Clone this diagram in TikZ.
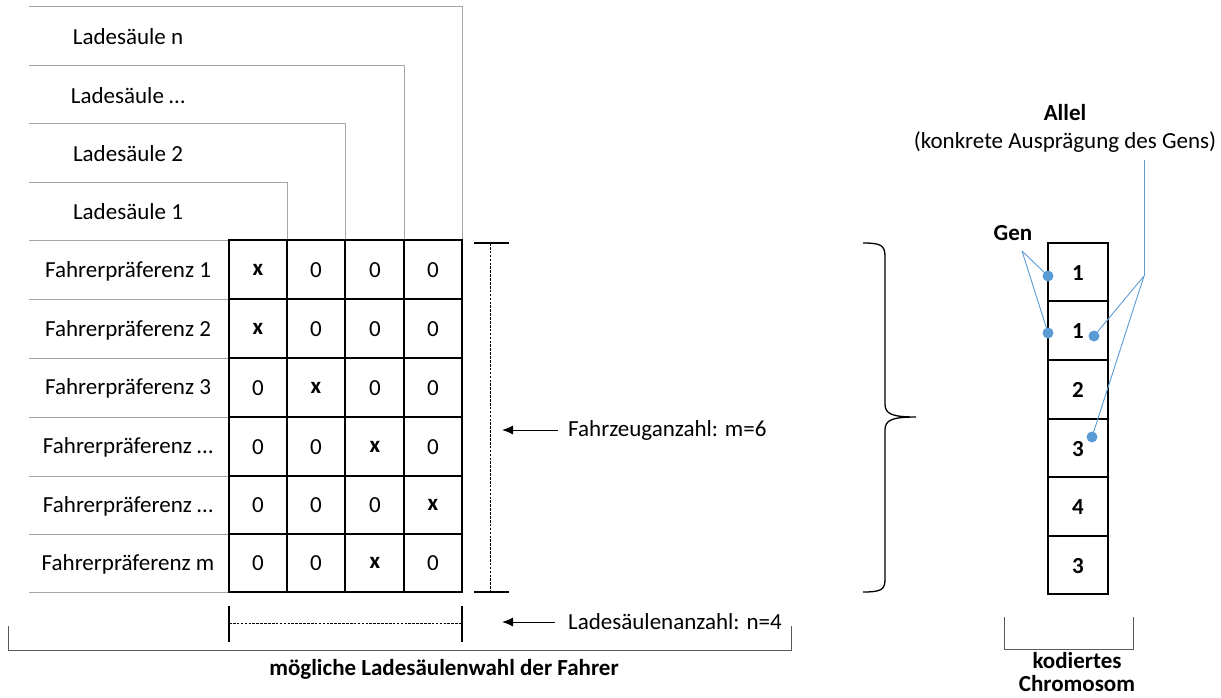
\documentclass[tikz,border=0pt]{standalone}
\usepackage{fontspec}
\setmainfont{Carlito}
\usetikzlibrary{arrows.meta}
\definecolor{lblue}{HTML}{5B9BD5}
\definecolor{lgray}{HTML}{A6A6A6}
\definecolor{dgray}{HTML}{595959}
\begin{document}
\begin{tikzpicture}[x=1pt,y=-1pt,
  txt/.style={font=\fontsize{23}{27}\selectfont, inner sep=0pt},
  btxt/.style={font=\fontsize{23}{27}\selectfont\bfseries, inner sep=0pt},
  grid/.style={line width=1.9pt, black},
  thin gray/.style={line width=0.9pt, lgray},
  dim/.style={line width=1.2pt, black},
  dashline/.style={line width=1pt, dash pattern=on 2.6pt off 1.3pt},
  arr/.style={line width=1pt, -{Latex[length=11pt,width=9pt]}},
  blue line/.style={line width=0.9pt, lblue},
  dot/.style={circle, fill=lblue, inner sep=0pt, minimum size=11pt}]
\useasboundingbox (0,0) rectangle (1221,697);

% Ladesaeule staircase lines
\draw[thin gray] (29,6) -- (462,6) -- (462,240);
\draw[thin gray] (29,65) -- (404,65) -- (404,240);
\draw[thin gray] (29,123) -- (345,123) -- (345,240);
\draw[thin gray] (29,182) -- (287,182) -- (287,240);
\foreach \y in {240,299,358,417,476,534,592}
  \draw[thin gray] (29,\y) -- (229,\y);

\node[txt] (ln) at (128,37) {Ladesäule n};
\node[txt] (ld) at (128,96) {Ladesäule …};
\node[txt] (l2) at (128,154) {Ladesäule 2};
\node[txt] (l1) at (128,212) {Ladesäule 1};

% Fahrerpraeferenz labels
\node[txt] (f1) at (128,271) {Fahrerpräferenz 1};
\node[txt] (f2) at (128,330) {Fahrerpräferenz 2};
\node[txt] (f3) at (128,388) {Fahrerpräferenz 3};
\node[txt] (f4) at (128,447) {Fahrerpräferenz …};
\node[txt] (f5) at (128,506) {Fahrerpräferenz …};
\node[txt] (f6) at (128,564) {Fahrerpräferenz m};

% grid
\draw[grid] (229,240) rectangle (462,592);
\foreach \x in {287,345,404} \draw[grid] (\x,240) -- (\x,592);
\foreach \y in {299,358,417,476,534} \draw[grid] (229,\y) -- (462,\y);

% cell contents
\foreach \r/\y/\c in {1/270/1, 2/329/1, 3/388/2, 4/447/3, 5/505/4, 6/563/3}{
  \foreach \k/\x in {1/258, 2/316, 3/375, 4/433}{
    \ifnum\k=\c
      \node[btxt] (c\r\k) at (\x,\y) {x};
    \else
      \node[txt] (c\r\k) at (\x,\y) {0};
    \fi
  }
}

% vertical dimension m
\draw[dim] (474,243) -- (509,243);
\draw[dim] (474,592) -- (509,592);
\draw[dashline] (490,243) -- (490,592);
\coordinate (am) at (558,430);
\coordinate (amt) at (502,430);
\draw[arr] (am) -- (amt);
\node[txt, anchor=west] (fz) at (568,430) {Fahrzeuganzahl: m=6};

% horizontal dimension n
\draw[dim] (229,606) -- (229,642);
\draw[dim] (462,606) -- (462,642);
\draw[dashline] (229,623) -- (462,623);
\coordinate (an) at (555,622);
\coordinate (ant) at (502,622);
\draw[arr] (an) -- (ant);
\node[txt, anchor=west] (ls) at (568,622) {Ladesäulenanzahl: n=4};

% bottom bracket
\draw[line width=1pt, dgray] (8,626) -- (8,650) -- (791,650) -- (791,626);
\node[btxt] (mw) at (444,669) {mögliche Ladesäulenwahl der Fahrer};

% curly brace
\draw[line width=1.3pt] (863,243) .. controls (880,243) and (885,245) .. (885,256)
  -- (885,404) .. controls (885,414) and (892,417) .. (916,417)
  .. controls (892,417) and (885,420) .. (885,430)
  -- (885,580) .. controls (885,590) and (880,592) .. (863,592);

% chromosome
\draw[grid] (1048,243) rectangle (1108,594);
\foreach \y in {301,360,419,477,536} \draw[grid] (1048,\y) -- (1108,\y);
\foreach \i/\y/\v in {1/273/1, 2/331/1, 3/390/2, 4/449/3, 5/507/4, 6/566/3}
  \node[btxt] (g\i) at (1078,\y) {\v};

% Gen
\node[btxt] (gen) at (1013,233) {Gen};
\coordinate (gp) at (1022,251);
\node[dot] (d1) at (1048,276) {};
\node[dot] (d2) at (1048,333) {};
\draw[blue line] (gp) -- (d1.center);
\draw[blue line] (gp) -- (d2.center);

% Allel
\node[btxt] (allel) at (1065,113) {Allel};
\node[txt] (allel2) at (1065,142) {(konkrete Ausprägung des Gens)};
\coordinate (at) at (1144,160);
\coordinate (ap) at (1144,276);
\node[dot] (d3) at (1094,336) {};
\node[dot] (d4) at (1092,437) {};
\draw[blue line] (at) -- (ap);
\draw[blue line] (ap) -- (d3.center);
\draw[blue line] (ap) -- (d4.center);

% chromosome bracket
\draw[line width=1pt, dgray] (1004,617) -- (1004,649) -- (1133,649) -- (1133,617);
\node[btxt] (kd) at (1077,661) {kodiertes};
\node[btxt] (ch) at (1077,684) {Chromosom};
\end{tikzpicture}
\end{document}
